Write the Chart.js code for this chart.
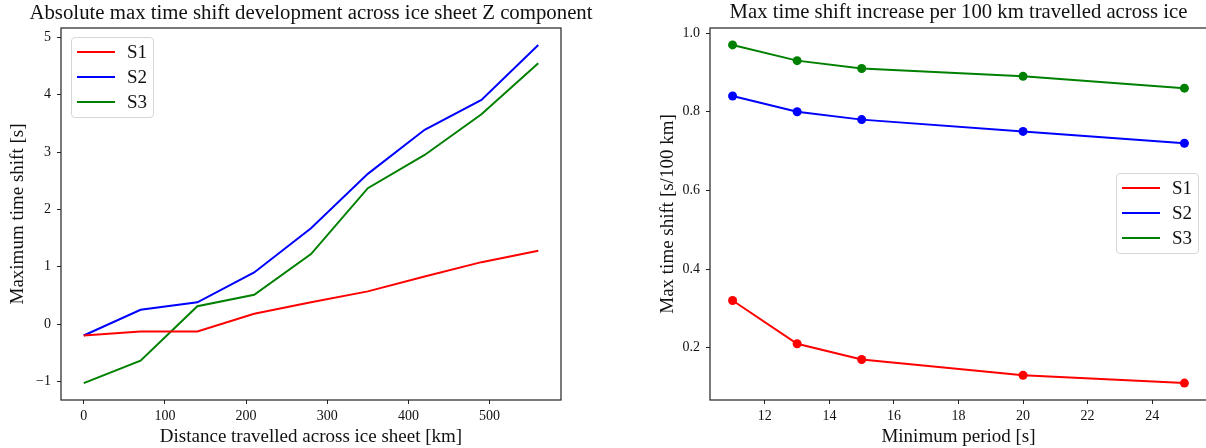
<!DOCTYPE html>
<html>
<head>
<meta charset="utf-8">
<script src="https://cdn.jsdelivr.net/npm/chart.js@4.4.1/dist/chart.umd.min.js"></script>
<style>
html,body{margin:0;padding:0;background:#fff;overflow:hidden;width:1206px;height:448px;position:relative}
#w1{position:absolute;left:0;top:0;width:622px;height:448px;z-index:2}
#w2{position:absolute;left:600px;top:0;width:620px;height:448px;z-index:1}
.legend{position:absolute;background:rgba(255,255,255,0.8);border:1px solid #d6d6d6;border-radius:4px;box-sizing:border-box;font-family:'Liberation Serif',serif;font-size:19px;color:#111;z-index:5}
.legend .row{position:absolute;left:0;height:20px;display:flex;align-items:center}
.legend .sw{width:38px;height:2px;margin-left:5px}
.legend .lb{margin-left:12px;line-height:20px}
</style>
</head>
<body>
<div id="w1"><canvas id="c1"></canvas></div>
<div id="w2"><canvas id="c2"></canvas></div>
<div class="legend" id="lg1" style="left:71px;top:37px;width:83px;height:81px"></div>
<div class="legend" id="lg2" style="left:1116px;top:173px;width:83px;height:81px"></div>
<script>
// ---- Data: left chart ----
const distanceKm = [0, 70, 140, 210, 280, 350, 420, 490, 560];
const shiftS1 = [-0.20, -0.13, -0.13, 0.18, 0.38, 0.57, 0.83, 1.08, 1.28];
const shiftS2 = [-0.20, 0.25, 0.38, 0.90, 1.67, 2.62, 3.39, 3.91, 4.87];
const shiftS3 = [-1.03, -0.64, 0.31, 0.51, 1.22, 2.37, 2.95, 3.66, 4.55];
const leftXTicks = [0, 100, 200, 300, 400, 500];
const leftYTicks = [-1, 0, 1, 2, 3, 4, 5];

// ---- Data: right chart ----
const minPeriod = [11, 13, 15, 20, 25];
const rateS1 = [0.32, 0.21, 0.17, 0.13, 0.11];
const rateS2 = [0.84, 0.80, 0.78, 0.75, 0.72];
const rateS3 = [0.97, 0.93, 0.91, 0.89, 0.86];
const rightXTicks = [12, 14, 16, 18, 20, 22, 24];
const rightYTicks = [0.2, 0.4, 0.6, 0.8, 1.0];

const seriesNames = ['S1', 'S2', 'S3'];
const seriesColors = ['#ff0000', '#0000ff', '#008000'];

const FONT = "'Liberation Serif', 'Times New Roman', serif";
const TXT = '#111';

const framePlugin = {
  id: 'frame',
  afterDraw(chart) {
    const a = chart.chartArea, ctx = chart.ctx;
    ctx.save();
    ctx.strokeStyle = '#222';
    ctx.lineWidth = 1.2;
    ctx.strokeRect(a.left, a.top, a.right - a.left, a.bottom - a.top);
    ctx.restore();
  }
};

function pts(xs, ys) { return xs.map((x, i) => ({x: x, y: ys[i]})); }
function fixTicks(vals) { return s => { s.ticks = vals.map(v => ({value: v})); }; }

function makeChart(id, cfg) {
  const datasets = cfg.series.map((ys, i) => ({
    label: seriesNames[i],
    data: pts(cfg.xs, ys),
    borderColor: seriesColors[i],
    backgroundColor: seriesColors[i],
    borderWidth: 2,
    pointRadius: cfg.pointRadius,
    pointHoverRadius: cfg.pointRadius,
    pointBorderWidth: 0,
    tension: 0,
    fill: false,
    xAxisID: 'x',
    yAxisID: 'y'
  }));
  return new Chart(document.getElementById(id), {
    type: 'line',
    data: { datasets },
    plugins: [framePlugin],
    options: {
      responsive: true,
      maintainAspectRatio: false,
      animation: false,
      events: [],
      layout: { padding: { left: 0, right: 0, top: 0, bottom: 0 } },
      plugins: {
        legend: { display: false },
        tooltip: { enabled: false },
        title: {
          display: true,
          text: cfg.title,
          fullSize: cfg.titleFull,
          color: TXT,
          font: { family: FONT, size: cfg.titleSize, weight: 'normal', lineHeight: 1.2 },
          padding: { top: 0.6, bottom: 28 - 0.6 - cfg.titleSize * 1.2 }
        }
      },
      scales: {
        x: {
          type: 'linear',
          min: cfg.xMin, max: cfg.xMax,
          afterBuildTicks: fixTicks(cfg.xTicks),
          afterFit: s => { s.height = 48; },
          grid: { display: true, drawOnChartArea: false, drawTicks: true, tickLength: 4, color: '#222', tickWidth: 1 },
          border: { display: false },
          ticks: { color: TXT, font: { family: FONT, size: 14 }, padding: 4, maxRotation: 0, autoSkip: false,
                   callback: v => cfg.xFmt(v) },
          title: { display: true, text: cfg.xTitle, color: TXT, font: { family: FONT, size: 19, lineHeight: 1.2 }, padding: { top: 0, bottom: 0 } }
        },
        y: {
          type: 'linear',
          min: cfg.yMin, max: cfg.yMax,
          afterBuildTicks: fixTicks(cfg.yTicks),
          afterFit: s => { s.width = cfg.yWidth; },
          grid: { display: true, drawOnChartArea: false, drawTicks: true, tickLength: 4, color: '#222', tickWidth: 1 },
          border: { display: false },
          ticks: { color: TXT, font: { family: FONT, size: 14 }, padding: 6, autoSkip: false,
                   callback: v => cfg.yFmt(v) },
          title: { display: true, text: cfg.yTitle, color: TXT, font: { family: FONT, size: 19, lineHeight: 1.2 }, padding: { top: cfg.yTitlePad, bottom: 0 } }
        },
        ySpacer: {
          type: 'linear',
          position: 'right',
          display: true,
          min: cfg.yMin, max: cfg.yMax,
          afterFit: s => { s.width = cfg.rightSpace; },
          grid: { display: false, drawTicks: false },
          border: { display: false },
          ticks: { display: false }
        }
      }
    }
  });
}

const minus = v => String(v).replace('-', '\u2212');

makeChart('c1', {
  xs: distanceKm, series: [shiftS1, shiftS2, shiftS3], pointRadius: 0,
  title: 'Absolute max time shift development across ice sheet Z component',
  titleFull: true, titleSize: 20.8,
  xTitle: 'Distance travelled across ice sheet [km]',
  yTitle: 'Maximum time shift [s]',
  xMin: -28, xMax: 588, yMin: -1.325, yMax: 5.165,
  xTicks: leftXTicks, yTicks: leftYTicks,
  xFmt: v => minus(v), yFmt: v => minus(v),
  rightSpace: 61, yWidth: 61, yTitlePad: 6.6
});

makeChart('c2', {
  xs: minPeriod, series: [rateS1, rateS2, rateS3], pointRadius: 4.5,
  title: 'Max time shift increase per 100 km travelled across ice',
  titleFull: false, titleSize: 20.7,
  xTitle: 'Minimum period [s]',
  yTitle: 'Max time shift [s/100 km]',
  xMin: 10.3, xMax: 25.7, yMin: 0.067, yMax: 1.013,
  xTicks: rightXTicks, yTicks: rightYTicks,
  xFmt: v => String(v), yFmt: v => v.toFixed(1),
  rightSpace: 13, yWidth: 110, yTitlePad: 56.6
});

function buildLegend(id) {
  const el = document.getElementById(id);
  seriesNames.forEach((n, i) => {
    const r = document.createElement('div');
    r.className = 'row';
    r.style.top = (4 + i * 25) + 'px';
    r.innerHTML = '<span class="sw" style="background:' + seriesColors[i] + '"></span><span class="lb">' + n + '</span>';
    el.appendChild(r);
  });
}
buildLegend('lg1');
buildLegend('lg2');
</script>
</body>
</html>
